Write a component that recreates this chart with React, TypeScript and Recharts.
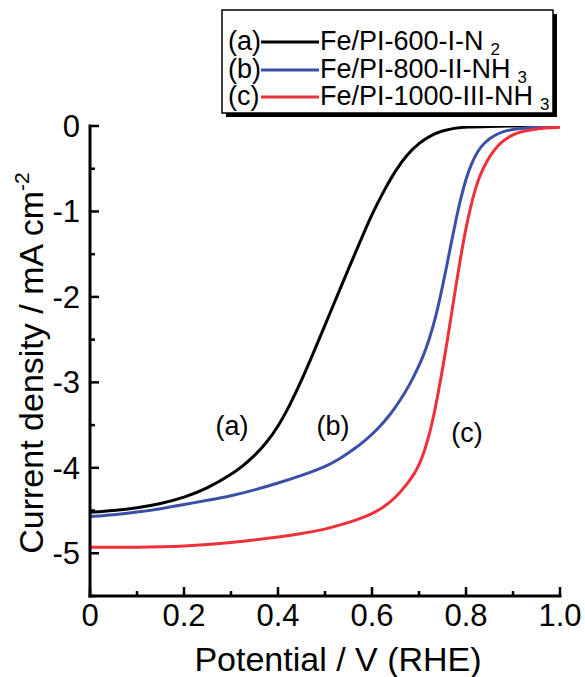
import { LineChart, Line, XAxis, YAxis, Legend, ReferenceDot } from "recharts";

// Potential (V vs RHE) and current density (mA cm^-2)
const potA = [0, 0.05, 0.1, 0.15, 0.2, 0.25, 0.3, 0.325, 0.35, 0.375, 0.4, 0.425, 0.45, 0.475, 0.5, 0.525, 0.55, 0.575, 0.6, 0.625, 0.65, 0.675, 0.7, 0.725, 0.75, 0.775, 0.8, 0.85, 0.9, 1.0];
const curA = [-4.52, -4.5, -4.47, -4.42, -4.35, -4.24, -4.08, -3.98, -3.86, -3.71, -3.52, -3.27, -2.98, -2.66, -2.33, -2.0, -1.67, -1.35, -1.03, -0.76, -0.52, -0.33, -0.2, -0.11, -0.055, -0.025, -0.012, -0.004, 0, 0];

const potB = [0, 0.05, 0.1, 0.15, 0.2, 0.25, 0.3, 0.35, 0.4, 0.45, 0.5, 0.53, 0.56, 0.59, 0.615, 0.64, 0.66, 0.68, 0.7, 0.715, 0.73, 0.74, 0.75, 0.76, 0.77, 0.78, 0.79, 0.8, 0.81, 0.825, 0.84, 0.86, 0.88, 0.91, 0.95, 1.0];
const curB = [-4.57, -4.55, -4.52, -4.48, -4.43, -4.38, -4.33, -4.26, -4.18, -4.09, -3.99, -3.9, -3.79, -3.66, -3.53, -3.37, -3.21, -3.03, -2.81, -2.61, -2.35, -2.13, -1.88, -1.61, -1.33, -1.06, -0.82, -0.62, -0.46, -0.29, -0.19, -0.11, -0.06, -0.03, -0.012, -0.005];

const potC = [0, 0.1, 0.2, 0.3, 0.4, 0.45, 0.5, 0.532, 0.567, 0.6, 0.625, 0.65, 0.675, 0.69, 0.7, 0.71, 0.72, 0.73, 0.74, 0.75, 0.76, 0.77, 0.78, 0.79, 0.8, 0.81, 0.82, 0.83, 0.845, 0.86, 0.875, 0.89, 0.91, 0.94, 0.97, 1.0];
const curC = [-4.93, -4.93, -4.92, -4.88, -4.81, -4.77, -4.72, -4.67, -4.61, -4.54, -4.46, -4.35, -4.19, -4.07, -3.97, -3.83, -3.65, -3.43, -3.15, -2.85, -2.52, -2.17, -1.82, -1.49, -1.19, -0.94, -0.73, -0.57, -0.4, -0.28, -0.19, -0.13, -0.075, -0.04, -0.022, -0.015];

const tags = ["(a)", "(b)", "(c)"];
const names = ["Fe/PI-600-I-N", "Fe/PI-800-II-NH", "Fe/PI-1000-III-NH"];
const subs = ["2", "3", "3"];
const colors = ["#000000", "#3b4fa6", "#ee3039"];

// in-plot curve labels (data coords)
const tagPot = [0.302, 0.517, 0.802];
const tagCur = [-3.5, -3.5, -3.58];

const xTicks = [0, 0.1, 0.2, 0.3, 0.4, 0.5, 0.6, 0.7, 0.8, 0.9, 1.0];
const yTicks = [-5.5, -5, -4.5, -4, -3.5, -3, -2.5, -2, -1.5, -1, -0.5, 0];

const FONT = "'Liberation Sans', Arial, sans-serif";

const zip = (xs: number[], ys: number[]) => xs.map((v, i) => ({ v, j: ys[i] }));
const series = [zip(potA, curA), zip(potB, curB), zip(potC, curC)];

const isMajorX = (v: number) => Math.round(v * 10) % 2 === 0;
const isMajorY = (v: number) => Number.isInteger(v);

function BottomTick(props: any) {
  const { x, y, payload } = props;
  const v = payload.value;
  const major = isMajorX(v);
  return (
    <g>
      <line x1={x} y1={y} x2={x} y2={y - (major ? 9 : 5)} stroke="#000" strokeWidth={2.5} />
      {major && (
        <text x={x} y={y + 30} textAnchor="middle" fontSize={31} fontFamily={FONT} fill="#000">
          {v === 0 ? "0" : v.toFixed(1)}
        </text>
      )}
    </g>
  );
}

function TopTick(props: any) {
  const { x, y, payload } = props;
  const major = isMajorX(payload.value);
  return <line x1={x} y1={y} x2={x} y2={y + (major ? 9 : 5)} stroke="#000" strokeWidth={2.5} />;
}

function LeftTick(props: any) {
  const { x, y, payload } = props;
  const v = payload.value;
  const major = isMajorY(v);
  return (
    <g>
      <line x1={x} y1={y} x2={x + (major ? 9 : 5)} y2={y} stroke="#000" strokeWidth={2.5} />
      {major && (
        <text x={x - 10} y={y + 11} textAnchor="end" fontSize={31} fontFamily={FONT} fill="#000">
          {v}
        </text>
      )}
    </g>
  );
}

function RightTick(props: any) {
  const { x, y, payload } = props;
  const major = isMajorY(payload.value);
  return <line x1={x} y1={y} x2={x - (major ? 9 : 5)} y2={y} stroke="#000" strokeWidth={2.5} />;
}

function LegendBox() {
  const baselines = [50, 78, 105];
  return (
    <svg width={585} height={130} style={{ display: "block" }}>
      <rect x={226} y={14} width={331} height={103} fill="#000" />
      <rect x={222} y={10} width={331} height={103} fill="#fff" stroke="#000" strokeWidth={1.5} />
      {tags.map((t, i) => (
        <g key={t} fontFamily={FONT} fill="#000">
          <text x={228} y={baselines[i]} fontSize={27}>{t}</text>
          <line x1={261} x2={319} y1={baselines[i] - 8} y2={baselines[i] - 8} stroke={colors[i]} strokeWidth={3} />
          <text x={320} y={baselines[i]} fontSize={27}>
            {names[i]}
            <tspan dx={7} dy={5} fontSize={17}>{subs[i]}</tspan>
          </text>
        </g>
      ))}
    </svg>
  );
}

function XTitle(props: any) {
  const vb = props.viewBox;
  return (
    <text x={vb.x + vb.width / 2 + 13} y={vb.y + 75} textAnchor="middle" fontSize={34} fontFamily={FONT} fill="#000">
      Potential / V (RHE)
    </text>
  );
}

function YTitle(props: any) {
  const vb = props.viewBox;
  const x0 = vb.x + 43;
  const y0 = vb.y + vb.height / 2 + 2;
  return (
    <text x={x0} y={y0} transform={`rotate(-90 ${x0} ${y0})`} textAnchor="middle" fontSize={34} fontFamily={FONT} fill="#000">
      Current density / mA cm
      <tspan dy={-14} fontSize={21}>-2</tspan>
    </text>
  );
}

const axisLine = { stroke: "#000", strokeWidth: 3, strokeLinecap: "square" as const };

export default function App() {
  return (
    <div style={{ position: "absolute", left: 0, top: 0, width: 585, height: 677, background: "#fff" }}>
      <LineChart width={585} height={677} margin={{ top: 126, right: 25, bottom: 0, left: 0 }}>
        <XAxis
          xAxisId="b"
          type="number"
          dataKey="v"
          domain={[0, 1]}
          ticks={xTicks}
          interval={0}
          height={81}
          tickSize={0}
          tickMargin={0}
          tickLine={false}
          axisLine={axisLine}
          tick={BottomTick}
          allowDataOverflow
          label={{ content: XTitle }}
        />
        <XAxis
          xAxisId="t"
          orientation="top"
          type="number"
          dataKey="v"
          domain={[0, 1]}
          ticks={xTicks}
          interval={0}
          height={0}
          tickSize={0}
          tickMargin={0}
          tickLine={false}
          axisLine={axisLine}
          tick={TopTick}
          allowDataOverflow
        />
        <YAxis
          yAxisId="l"
          type="number"
          domain={[-5.5, 0]}
          ticks={yTicks}
          interval={0}
          width={90}
          tickSize={0}
          tickMargin={0}
          tickLine={false}
          axisLine={axisLine}
          tick={LeftTick}
          allowDataOverflow
          label={{ content: YTitle }}
        />
        <YAxis
          yAxisId="r"
          orientation="right"
          type="number"
          domain={[-5.5, 0]}
          ticks={yTicks}
          interval={0}
          width={0}
          tickSize={0}
          tickMargin={0}
          tickLine={false}
          axisLine={axisLine}
          tick={RightTick}
          allowDataOverflow
        />
        {series.map((d, i) => (
          <Line
            key={names[i]}
            xAxisId="b"
            yAxisId="l"
            data={d}
            dataKey="j"
            type="basis"
            stroke={colors[i]}
            strokeWidth={3}
            dot={false}
            activeDot={false}
            isAnimationActive={false}
          />
        ))}
        {tags.map((t, i) => (
          <ReferenceDot
            key={t}
            xAxisId="b"
            yAxisId="l"
            x={tagPot[i]}
            y={tagCur[i]}
            r={0}
            fill="none"
            stroke="none"
            label={{ value: t, position: "center", fontSize: 27, fontFamily: FONT, fill: "#000" }}
          />
        ))}
        <Legend
          layout="horizontal"
          verticalAlign="middle"
          align="center"
          wrapperStyle={{ left: 0, top: 0, width: 585, height: 130 }}
          content={() => <LegendBox />}
        />
      </LineChart>
    </div>
  );
}
